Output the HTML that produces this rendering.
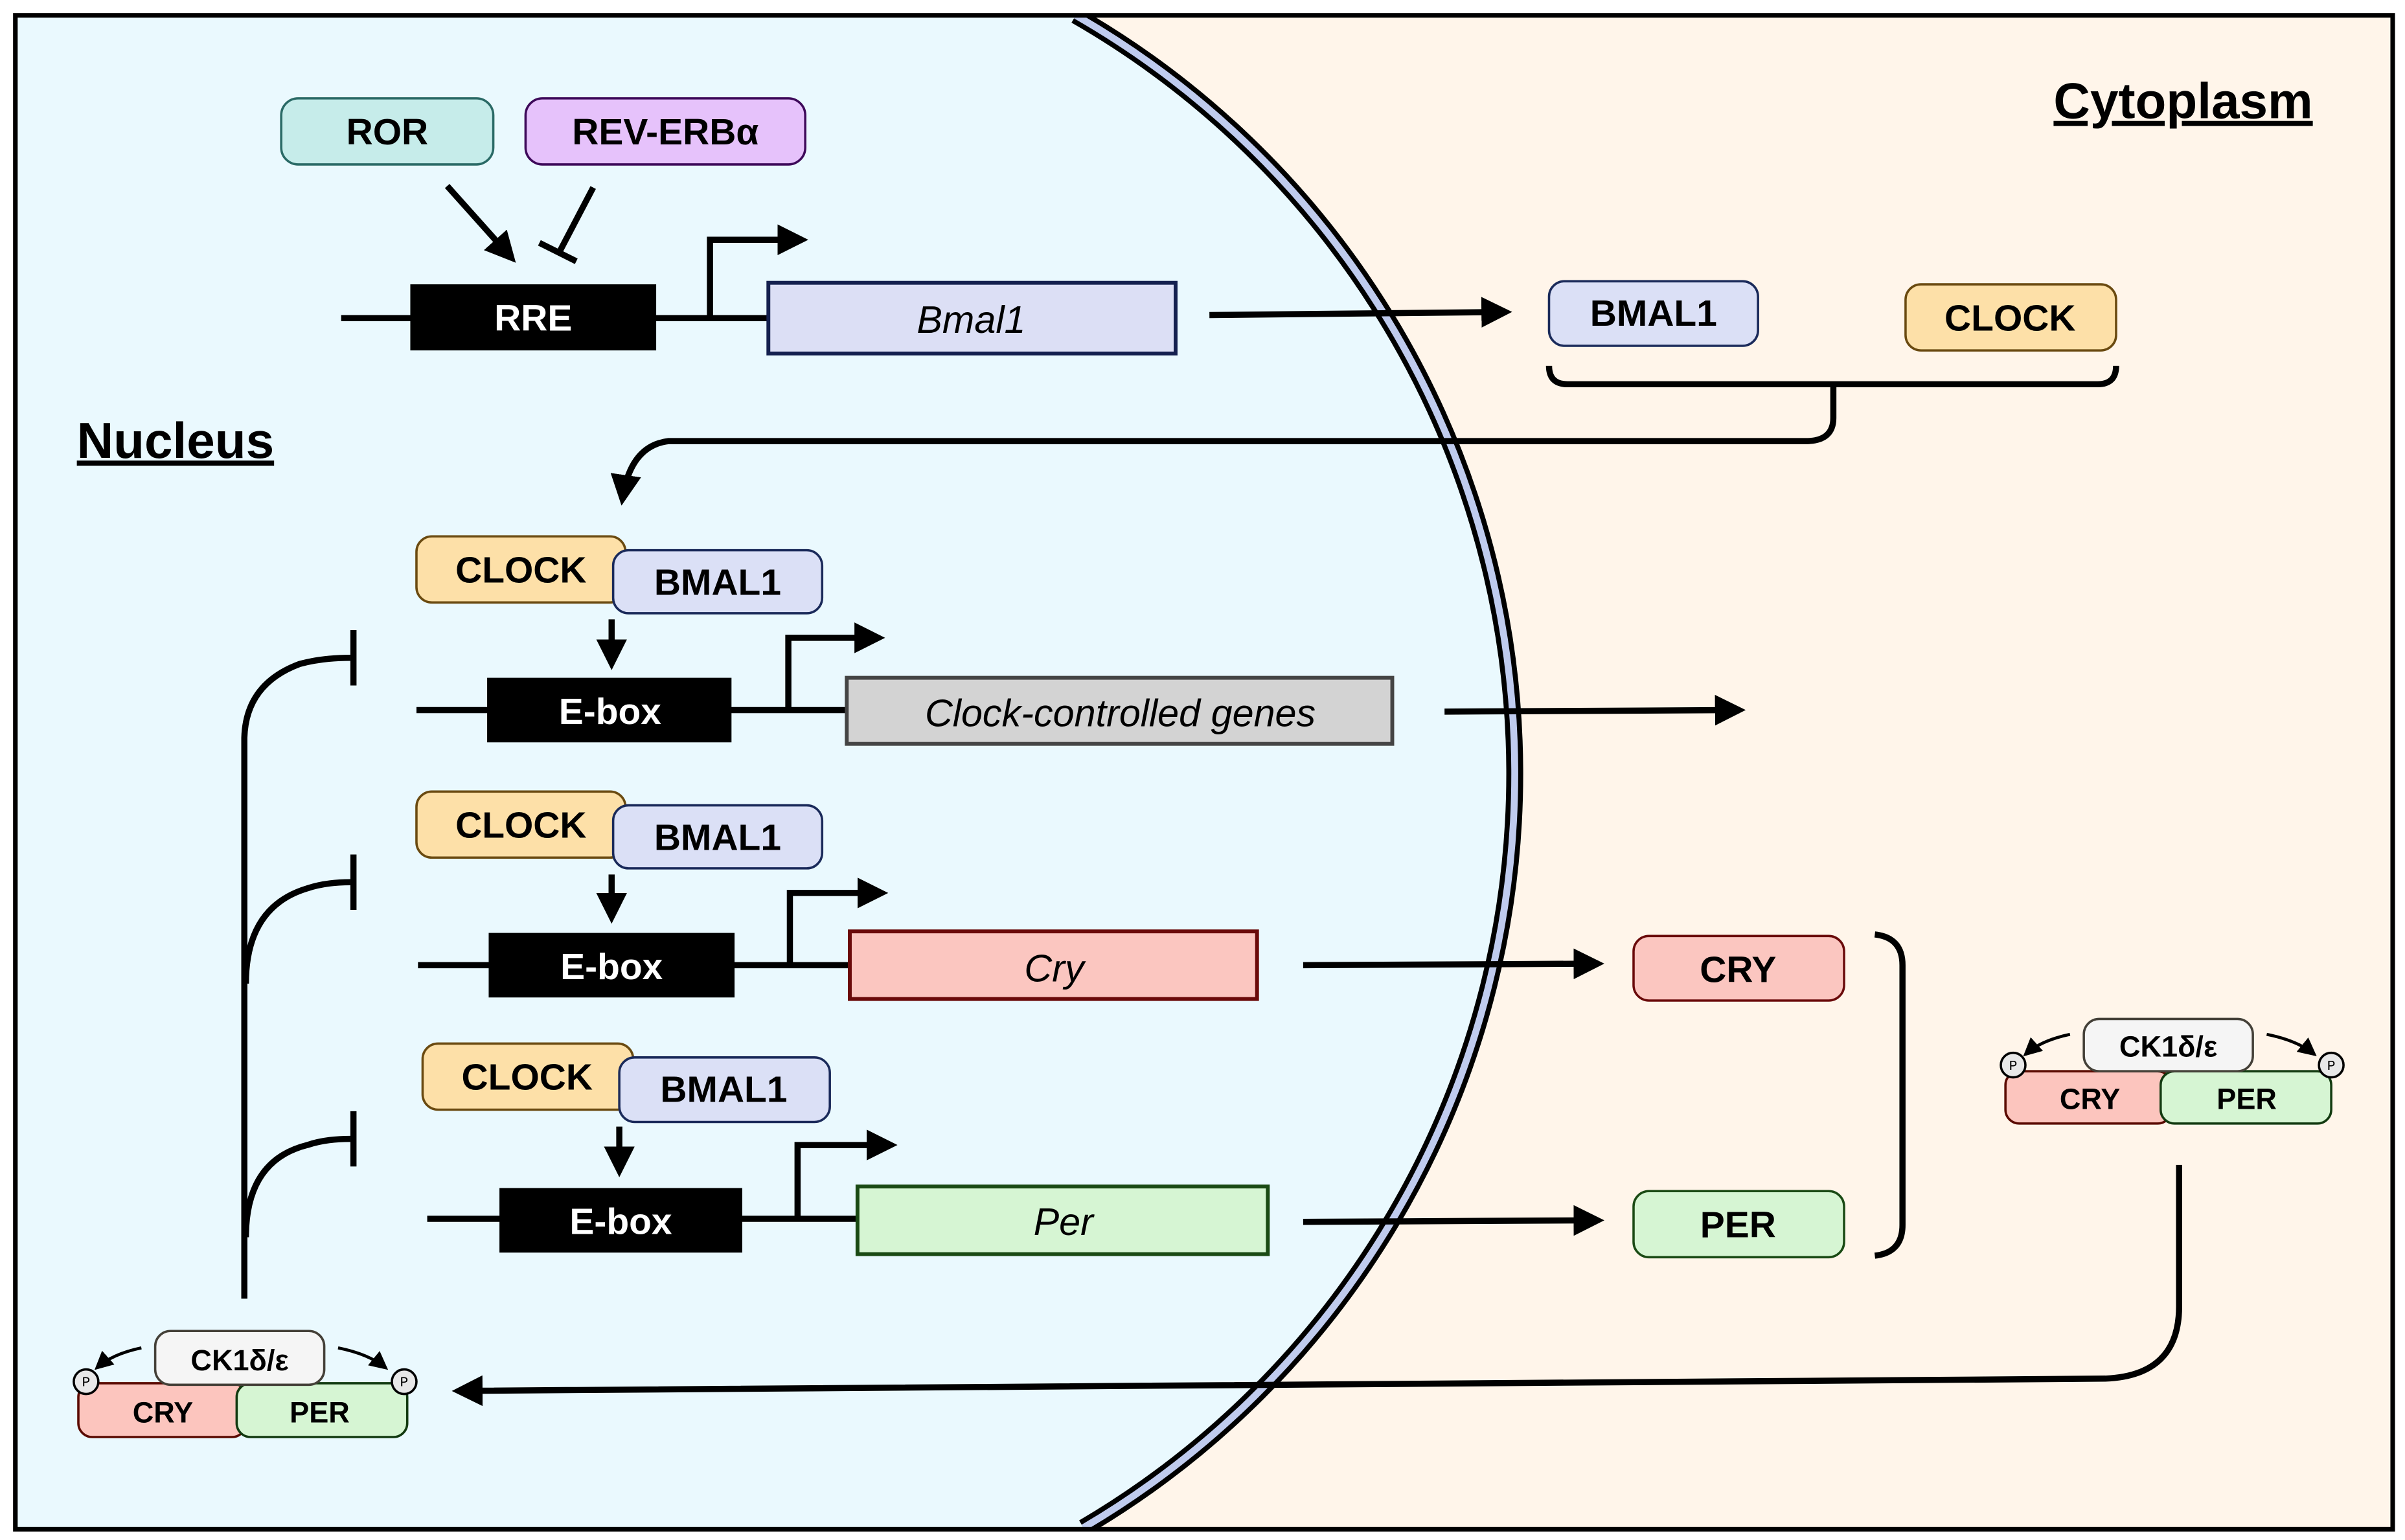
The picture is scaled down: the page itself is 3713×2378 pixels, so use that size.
<!DOCTYPE html>
<html><head><meta charset="utf-8"><style>
html,body{margin:0;padding:0;background:#fff;overflow:hidden;width:3713px;height:2378px}
svg{display:block}
text{font-family:"Liberation Sans","DejaVu Sans",sans-serif}
.b{font-weight:bold;font-size:24px;text-anchor:middle;dominant-baseline:central}
.s{font-weight:bold;font-size:19px;text-anchor:middle;dominant-baseline:central}
.i{font-style:italic;font-size:25px;text-anchor:middle;dominant-baseline:central}
.l{stroke:#000;stroke-width:4;fill:none}
</style></head><body>
<svg width="3713" height="2378" viewBox="0 0 1565 1002" preserveAspectRatio="none" xmlns="http://www.w3.org/2000/svg">
<defs>
<marker id="ah" markerWidth="6" markerHeight="6" refX="5" refY="3" orient="auto" markerUnits="strokeWidth"><path d="M0,0 L6,3 L0,6 z" fill="#000"/></marker>
<marker id="ah2" markerWidth="5" markerHeight="5" refX="4" refY="2.5" orient="auto" markerUnits="strokeWidth"><path d="M0,0 L5,2.5 L0,5 z" fill="#000"/></marker>
<clipPath id="fr"><rect x="10" y="10" width="1547" height="985"/></clipPath>
</defs>
<rect x="10" y="10" width="1547" height="985" fill="#fff5ea"/>
<g clip-path="url(#fr)">
<path d="M0,0 H700 V10 A569,569 0 0 1 705,994 V1002 H0 Z" fill="#eaf9fe"/>
<path d="M700,10 A569,569 0 0 1 705,994" fill="none" stroke="#000" stroke-width="11"/>
<path d="M700,10 A569,569 0 0 1 705,994" fill="none" stroke="#bfcbee" stroke-width="4.5"/>
</g>
<rect x="10" y="10" width="1547" height="985" fill="none" stroke="#000" stroke-width="3"/>

<text x="50" y="298" style="font-weight:bold;font-size:33px;text-decoration:underline">Nucleus</text>
<text x="1505" y="77" text-anchor="end" style="font-weight:bold;font-size:33px;text-decoration:underline">Cytoplasm</text>

<!-- top -->
<rect x="183" y="64" width="138" height="43" rx="11" fill="#c6ecea" stroke="#2a6a66" stroke-width="1.5"/>
<text class="b" x="252" y="86">ROR</text>
<rect x="342" y="64" width="182" height="43" rx="11" fill="#e6c2fb" stroke="#3e0a5a" stroke-width="1.5"/>
<text class="b" x="433" y="86">REV-ERBα</text>
<line class="l" x1="291" y1="121" x2="333" y2="168" marker-end="url(#ah2)"/>
<line class="l" x1="386" y1="122" x2="364" y2="164"/>
<line class="l" x1="351" y1="158" x2="375" y2="170"/>
<line class="l" x1="222" y1="207" x2="500" y2="207"/>
<rect x="267" y="185" width="160" height="43" fill="#000"/>
<text class="b" x="347" y="207" fill="#fff">RRE</text>
<path class="l" d="M462,207 V156 H522" marker-end="url(#ah2)"/>
<rect x="500" y="184" width="265" height="46" fill="#dcdff5" stroke="#14204f" stroke-width="2.5"/>
<text class="i" x="632" y="208">Bmal1</text>
<line class="l" x1="787" y1="205" x2="980" y2="203" marker-end="url(#ah2)"/>
<rect x="1008" y="183" width="136" height="42" rx="10" fill="#dbe0f6" stroke="#1a2a5a" stroke-width="1.5"/>
<text class="b" x="1076" y="204">BMAL1</text>
<rect x="1240" y="185" width="137" height="43" rx="10" fill="#fde0a8" stroke="#6a4a10" stroke-width="1.5"/>
<text class="b" x="1308" y="207">CLOCK</text>
<path class="l" d="M1008,238 Q1008,250 1020,250 H1365 Q1377,250 1377,238"/>
<path class="l" d="M1193,252 V272 Q1193,287 1175,287 H435 Q410,290 405,325" marker-end="url(#ah2)"/>

<!-- row 1 -->
<rect x="271" y="349" width="136" height="43" rx="10" fill="#fde0a8" stroke="#6a4a10" stroke-width="1.5"/>
<text class="b" x="339" y="371">CLOCK</text>
<rect x="399" y="358" width="136" height="41" rx="10" fill="#dbe0f6" stroke="#1a2a5a" stroke-width="1.5"/>
<text class="b" x="467" y="379">BMAL1</text>
<line class="l" x1="398" y1="403" x2="398" y2="432" marker-end="url(#ah2)"/>
<line class="l" x1="271" y1="462" x2="551" y2="462"/>
<rect x="317" y="441" width="159" height="42" fill="#000"/>
<text class="b" x="397" y="463" fill="#fff">E-box</text>
<path class="l" d="M513,462 V415 H572" marker-end="url(#ah2)"/>
<rect x="551" y="441" width="355" height="43" fill="#d3d3d3" stroke="#444" stroke-width="2.5"/>
<text class="i" x="729" y="464">Clock-controlled genes</text>
<line class="l" x1="940" y1="463" x2="1132" y2="462" marker-end="url(#ah2)"/>

<!-- row 2 -->
<rect x="271" y="515" width="136" height="43" rx="10" fill="#fde0a8" stroke="#6a4a10" stroke-width="1.5"/>
<text class="b" x="339" y="537">CLOCK</text>
<rect x="399" y="524" width="136" height="41" rx="10" fill="#dbe0f6" stroke="#1a2a5a" stroke-width="1.5"/>
<text class="b" x="467" y="545">BMAL1</text>
<line class="l" x1="398" y1="569" x2="398" y2="597" marker-end="url(#ah2)"/>
<line class="l" x1="272" y1="628" x2="553" y2="628"/>
<rect x="318" y="607" width="160" height="42" fill="#000"/>
<text class="b" x="398" y="629" fill="#fff">E-box</text>
<path class="l" d="M514,628 V581 H574" marker-end="url(#ah2)"/>
<rect x="553" y="606" width="265" height="44" fill="#fbc6c0" stroke="#6a0a0a" stroke-width="2.5"/>
<text class="i" x="686" y="630">Cry</text>
<line class="l" x1="848" y1="628" x2="1040" y2="627" marker-end="url(#ah2)"/>
<rect x="1063" y="609" width="137" height="42" rx="10" fill="#fbc6c0" stroke="#6a0a0a" stroke-width="1.5"/>
<text class="b" x="1131" y="631">CRY</text>

<!-- row 3 -->
<rect x="275" y="679" width="137" height="43" rx="10" fill="#fde0a8" stroke="#6a4a10" stroke-width="1.5"/>
<text class="b" x="343" y="701">CLOCK</text>
<rect x="403" y="688" width="137" height="42" rx="10" fill="#dbe0f6" stroke="#1a2a5a" stroke-width="1.5"/>
<text class="b" x="471" y="709">BMAL1</text>
<line class="l" x1="403" y1="733" x2="403" y2="762" marker-end="url(#ah2)"/>
<line class="l" x1="278" y1="793" x2="558" y2="793"/>
<rect x="325" y="773" width="158" height="42" fill="#000"/>
<text class="b" x="404" y="795" fill="#fff">E-box</text>
<path class="l" d="M519,793 V745 H580" marker-end="url(#ah2)"/>
<rect x="558" y="772" width="267" height="44" fill="#d6f5d3" stroke="#1a4a14" stroke-width="2.5"/>
<text class="i" x="692" y="795">Per</text>
<line class="l" x1="848" y1="795" x2="1040" y2="794" marker-end="url(#ah2)"/>
<rect x="1063" y="775" width="137" height="43" rx="10" fill="#d6f5d3" stroke="#1a4a14" stroke-width="1.5"/>
<text class="b" x="1131" y="797">PER</text>
<path class="l" d="M1220,608 Q1238,610 1238,628 V797 Q1238,815 1220,817"/>

<!-- right complex -->
<rect x="1305" y="697" width="108" height="34" rx="9" fill="#fcc5be" stroke="#5a0a00" stroke-width="1.5"/>
<text class="s" x="1360" y="715">CRY</text>
<rect x="1406" y="697" width="111" height="34" rx="9" fill="#d6f5d3" stroke="#123a10" stroke-width="1.5"/>
<text class="s" x="1462" y="715">PER</text>
<rect x="1356" y="663" width="110" height="34" rx="10" fill="#f5f5f5" stroke="#444038" stroke-width="1.5"/>
<text class="s" x="1411" y="681">CK1δ/ε</text>
<path d="M1347,673 Q1328,677 1318,686" stroke="#000" stroke-width="2" fill="none" marker-end="url(#ah)"/>
<path d="M1475,673 Q1495,677 1506,686" stroke="#000" stroke-width="2" fill="none" marker-end="url(#ah)"/>
<circle cx="1310" cy="693" r="8" fill="#e8e8e8" stroke="#000" stroke-width="1.5"/>
<text x="1310" y="696" font-size="9" text-anchor="middle" style="font-family:'Liberation Mono',monospace">P</text>
<circle cx="1517" cy="693" r="8" fill="#e8e8e8" stroke="#000" stroke-width="1.5"/>
<text x="1517" y="696" font-size="9" text-anchor="middle" style="font-family:'Liberation Mono',monospace">P</text>
<path class="l" d="M1418,758 V850 Q1418,895 1370,897 L298,905" marker-end="url(#ah2)"/>

<!-- left complex -->
<rect x="51" y="900" width="109" height="35" rx="9" fill="#fcc5be" stroke="#5a0a00" stroke-width="1.5"/>
<text class="s" x="106" y="919">CRY</text>
<rect x="154" y="900" width="111" height="35" rx="9" fill="#d6f5d3" stroke="#123a10" stroke-width="1.5"/>
<text class="s" x="208" y="919">PER</text>
<rect x="101" y="866" width="110" height="35" rx="10" fill="#f5f5f5" stroke="#444038" stroke-width="1.5"/>
<text class="s" x="156" y="885">CK1δ/ε</text>
<path d="M92,877 Q73,881 63,890" stroke="#000" stroke-width="2" fill="none" marker-end="url(#ah)"/>
<path d="M220,877 Q240,881 251,890" stroke="#000" stroke-width="2" fill="none" marker-end="url(#ah)"/>
<circle cx="56" cy="899" r="8" fill="#e8e8e8" stroke="#000" stroke-width="1.5"/>
<text x="56" y="902" font-size="9" text-anchor="middle" style="font-family:'Liberation Mono',monospace">P</text>
<circle cx="263" cy="899" r="8" fill="#e8e8e8" stroke="#000" stroke-width="1.5"/>
<text x="263" y="902" font-size="9" text-anchor="middle" style="font-family:'Liberation Mono',monospace">P</text>

<!-- inhibition tree -->
<path class="l" d="M159,845 V480 Q160,445 195,432 Q210,428 228,428"/>
<path class="l" d="M160,640 Q160,590 200,578 Q212,574 228,574"/>
<path class="l" d="M160,805 Q160,755 200,745 Q212,741 228,741"/>
<line x1="230" y1="410" x2="230" y2="446" stroke="#000" stroke-width="4"/>
<line x1="230" y1="556" x2="230" y2="592" stroke="#000" stroke-width="4"/>
<line x1="230" y1="723" x2="230" y2="759" stroke="#000" stroke-width="4"/>
</svg>
</body></html>
